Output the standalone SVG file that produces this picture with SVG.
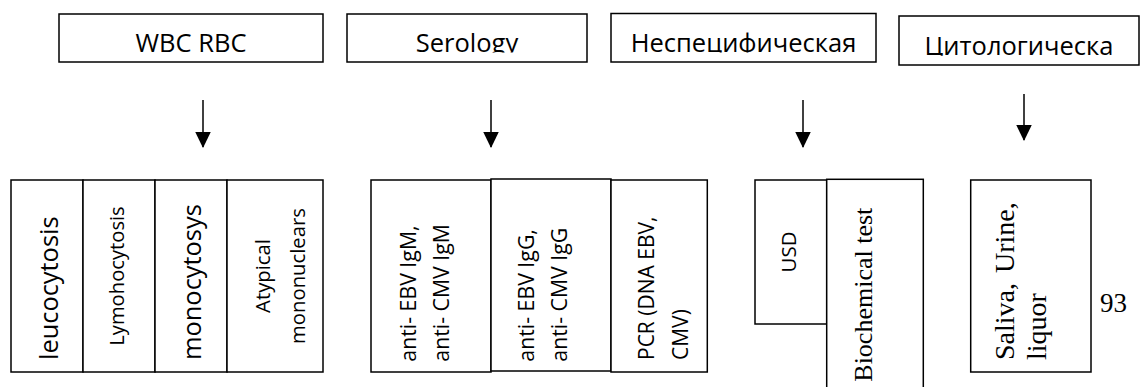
<svg xmlns="http://www.w3.org/2000/svg" width="1147" height="387" viewBox="0 0 1147 387">
<style>
.box{fill:#fff;stroke:#000;stroke-width:1.5}
.hd{font-family:"Open Sans",sans-serif;font-size:25.5px;fill:#000;text-anchor:middle}
.s{font-family:"Open Sans",sans-serif;fill:#000}
.t{font-family:"Liberation Serif",serif;fill:#000}
.conn{stroke:#000;stroke-width:1.5;fill:none}
</style>
<defs>
<marker id="ah" markerUnits="userSpaceOnUse" markerWidth="17" markerHeight="16" viewBox="0 0 17 16" refX="15" refY="7.75" orient="auto">
<path d="M0,0 L16,7.75 L0,15.5 z" fill="#000"/>
</marker>
<clipPath id="c1"><rect x="59" y="14" width="264" height="38.5"/></clipPath>
<clipPath id="c2"><rect x="347" y="14" width="240" height="38.5"/></clipPath>
<clipPath id="c3"><rect x="611" y="13" width="265" height="39.5"/></clipPath>
<clipPath id="c4"><rect x="899" y="16" width="240" height="39.8"/></clipPath>
</defs>
<rect width="1147" height="387" fill="#fff"/>

<g id="wbc">
<rect class="box" x="59" y="14" width="264" height="48"/>
<text class="hd" x="191" y="52" clip-path="url(#c1)">WBC RBC</text>
</g>
<g id="serology">
<rect class="box" x="347" y="14" width="240" height="48"/>
<text class="hd" x="467" y="52" clip-path="url(#c2)">Serology</text>
</g>
<g id="nonspecific">
<rect class="box" x="611" y="13.5" width="265" height="48.5"/>
<text class="hd" x="743.5" y="52" clip-path="url(#c3)">Неспецифическая</text>
</g>
<g id="cytology">
<rect class="box" x="899" y="16" width="240" height="49"/>
<text class="hd" x="1019" y="55.3" clip-path="url(#c4)">Цитологическа</text>
</g>

<g id="connectors">
<line class="conn" x1="203" y1="100" x2="203" y2="147" marker-end="url(#ah)"/>
<line class="conn" x1="491" y1="100" x2="491" y2="147" marker-end="url(#ah)"/>
<line class="conn" x1="803" y1="100" x2="803" y2="147" marker-end="url(#ah)"/>
<line class="conn" x1="1024" y1="94" x2="1024" y2="140" marker-end="url(#ah)"/>
</g>

<g id="leucocytosis">
<rect class="box" x="11" y="180" width="72" height="192"/>
<text class="s" font-size="25.4" transform="translate(57.5,360) rotate(-90)">leucocytosis</text>
</g>
<g id="lymphocytosis">
<rect class="box" x="83" y="180" width="72" height="192"/>
<text class="s" font-size="20.2" text-anchor="middle" transform="translate(123.6,276) rotate(-90)">Lymohocytosis</text>
</g>
<g id="monocytosis">
<rect class="box" x="155" y="180" width="72" height="192"/>
<text class="s" font-size="25.4" transform="translate(200.6,360) rotate(-90)">monocytosys</text>
</g>
<g id="atypical">
<rect class="box" x="227" y="180" width="96" height="192"/>
<text class="s" font-size="20.3" text-anchor="middle" transform="translate(270.3,276) rotate(-90)">Atypical</text>
<text class="s" font-size="20.3" text-anchor="middle" transform="translate(304.5,276) rotate(-90)">mononuclears</text>
</g>

<g id="igm">
<rect class="box" x="371" y="180" width="120" height="192"/>
<text class="s" font-size="21.3" transform="translate(415.5,361.7) rotate(-90)">anti- EBV IgM,</text>
<text class="s" font-size="21.3" transform="translate(448.5,361.7) rotate(-90)">anti- CMV IgM</text>
</g>
<g id="igg">
<rect class="box" x="491" y="179" width="120" height="192"/>
<text class="s" font-size="21.3" transform="translate(533.8,361.7) rotate(-90)">anti- EBV IgG,</text>
<text class="s" font-size="21.3" transform="translate(567,361.7) rotate(-90)">anti- CMV IgG</text>
</g>
<g id="pcr">
<rect class="box" x="611" y="180" width="96.3" height="192"/>
<text class="s" font-size="21" transform="translate(654,360) rotate(-90)">PCR (DNA EBV,</text>
<text class="s" font-size="21" transform="translate(688.3,360) rotate(-90)">CMV)</text>
</g>

<g id="usd">
<rect class="box" x="755" y="180" width="71.7" height="144"/>
<text class="s" font-size="20.5" text-anchor="middle" transform="translate(796,252) rotate(-90)">USD</text>
</g>
<g id="biochemical">
<rect class="box" x="826.7" y="179.3" width="96.6" height="220"/>
<text class="t" font-size="26" transform="translate(872.2,381.7) rotate(-90)">Biochemical test</text>
</g>
<g id="saliva">
<rect class="box" x="970.7" y="180" width="120.3" height="192"/>
<text class="t" font-size="28" word-spacing="3" transform="translate(1013.5,360) rotate(-90)">Saliva, Urine,</text>
<text class="t" font-size="28" transform="translate(1045.5,360) rotate(-90)">liquor</text>
</g>

<text class="t" font-size="27" x="1100" y="311.7">93</text>
</svg>
